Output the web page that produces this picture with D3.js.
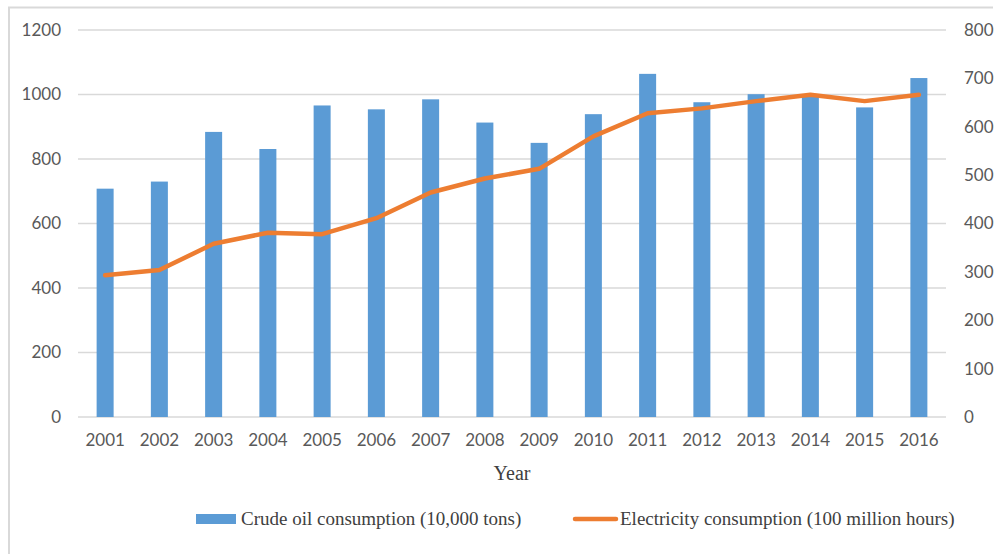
<!DOCTYPE html>
<html><head><meta charset="utf-8">
<script src="https://cdn.jsdelivr.net/npm/d3@7"></script>
<style>body{margin:0;background:#fff;}svg{display:block;}</style>
</head><body>
<script>
const years = ["2001","2002","2003","2004","2005","2006","2007","2008","2009","2010","2011","2012","2013","2014","2015","2016"];
const crudeOil = [708,730,884,831,966,954,985,913,850,939,1064,976,1001,998,960,1051];
const electricity = [293,304,358,381,378,411,464,493,513,580,628,638,653,666,653,666];
const leftTicks = [0,200,400,600,800,1000,1200];
const rightTicks = [0,100,200,300,400,500,600,700,800];
const seriesNames = ["Crude oil consumption (10,000 tons)","Electricity consumption (100 million hours)"];
const xTitle = "Year";

const W=994,H=554;
const svg=d3.select("body").append("svg").attr("width",W).attr("height",H);
svg.append("path").attr("d","M9,554V7.5H993").attr("fill","none").attr("stroke","#d9d9d9").attr("stroke-width",2);

const L=78,R=946,T=30,B=417;
const x=d3.scaleBand().domain(years).range([L,R]);
const yL=d3.scaleLinear().domain([0,1200]).range([B,T]);
const yR=d3.scaleLinear().domain([0,800]).range([B,T]);
const tickFont="Lato, 'Open Sans', sans-serif";
const fmt=d3.format("d");

// gridlines
svg.append("g").selectAll("line").data(leftTicks).join("line")
 .attr("x1",L).attr("x2",R).attr("y1",d=>yL(d)).attr("y2",d=>yL(d))
 .attr("stroke","#d9d9d9").attr("stroke-width",1.3);

// left axis
const gl=svg.append("g").attr("transform",`translate(${L},0)`)
 .call(d3.axisLeft(yL).tickValues(leftTicks).tickFormat(fmt).tickSize(0).tickPadding(17));
gl.select(".domain").remove();
gl.selectAll("text").attr("font-family",tickFont).attr("font-size",17).attr("fill","#595959");

// right axis
const gr=svg.append("g").attr("transform",`translate(${R},0)`)
 .call(d3.axisRight(yR).tickValues(rightTicks).tickFormat(fmt).tickSize(0).tickPadding(18));
gr.select(".domain").remove();
gr.selectAll("text").attr("font-family",tickFont).attr("font-size",17).attr("fill","#595959");

// x axis
const gx=svg.append("g").attr("transform",`translate(0,${B})`)
 .call(d3.axisBottom(x).tickSize(0).tickPadding(17));
gx.select(".domain").remove();
gx.selectAll("text").attr("font-family",tickFont).attr("font-size",17).attr("fill","#595959");

// bars
const bw=17;
svg.append("g").selectAll("rect").data(crudeOil).join("rect")
 .attr("x",(d,i)=>x(years[i])+x.bandwidth()/2-bw/2)
 .attr("width",bw)
 .attr("y",d=>yL(d)).attr("height",d=>B-yL(d))
 .attr("fill","#5B9BD5");

// line
const line=d3.line().x((d,i)=>x(years[i])+x.bandwidth()/2).y(d=>yR(d));
svg.append("path").datum(electricity).attr("d",line)
 .attr("fill","none").attr("stroke","#ED7D31").attr("stroke-width",4.5)
 .attr("stroke-linejoin","round").attr("stroke-linecap","round");

// x title
svg.append("text").attr("x",(L+R)/2).attr("y",480).attr("text-anchor","middle")
 .attr("font-family","'Liberation Serif', 'Times New Roman', serif").attr("font-size",20).attr("fill","#404040").text(xTitle);

// legend
const lg=svg.append("g").attr("font-family","'Liberation Serif', 'Times New Roman', serif").attr("font-size",19).attr("fill","#404040");
lg.append("rect").attr("x",196).attr("y",514).attr("width",40).attr("height",10).attr("fill","#5B9BD5");
lg.append("text").attr("x",241).attr("y",525).text(seriesNames[0]);
lg.append("line").attr("x1",575).attr("x2",616).attr("y1",519).attr("y2",519).attr("stroke","#ED7D31").attr("stroke-width",4.5).attr("stroke-linecap","round");
lg.append("text").attr("x",620).attr("y",525).text(seriesNames[1]);
</script>
</body></html>
